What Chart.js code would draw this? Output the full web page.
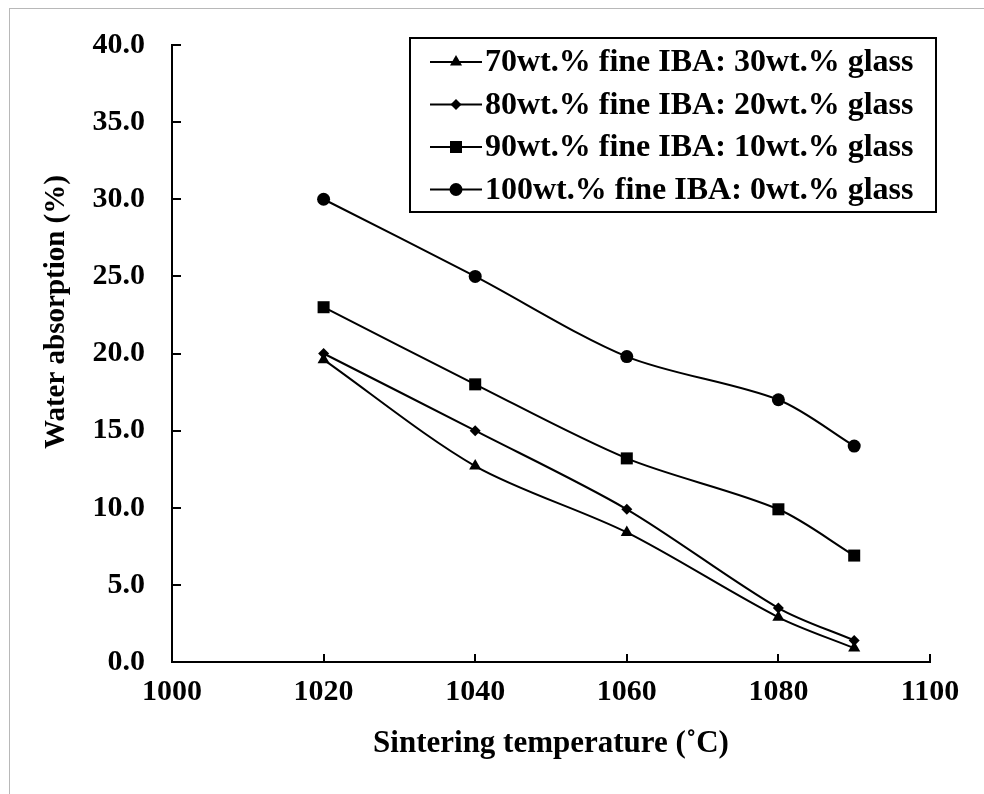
<!DOCTYPE html>
<html>
<head>
<meta charset="utf-8">
<script src="https://cdn.jsdelivr.net/npm/chart.js@4.4.1/dist/chart.umd.min.js"></script>
<style>
  html, body { margin: 0; padding: 0; background: #fff; }
  #wrap { position: relative; width: 984px; height: 794px; overflow: hidden; }
  #frame { position: absolute; left: 9px; top: 8px; right: -10px; bottom: -10px;
           border-left: 1px solid #b8b8b8; border-top: 1px solid #b8b8b8; }
  canvas { position: absolute; left: 0; top: 0; }
</style>
</head>
<body>
<div id="wrap">
  <div id="frame"></div>
  <canvas id="chart" width="984" height="794"></canvas>
</div>
<script>
// Sintering temperature (x) and water absorption (%) per mix
const temperatures = [1020, 1040, 1060, 1080, 1090];
const glass30 = [19.6, 12.7, 8.4, 2.9, 0.9];
const glass20 = [20.0, 15.0, 9.9, 3.5, 1.4];
const glass10 = [23.0, 18.0, 13.2, 9.9, 6.9];
const glass0 = [30.0, 25.0, 19.8, 17.0, 14.0];

const seriesLabels = [
  '70wt.% fine IBA: 30wt.% glass',
  '80wt.% fine IBA: 20wt.% glass',
  '90wt.% fine IBA: 10wt.% glass',
  '100wt.% fine IBA: 0wt.% glass'
];
const xTitle = 'Sintering temperature (\u02DAC)';
const yTitle = 'Water absorption (%)';

const FONT = '"Liberation Serif", "Times New Roman", serif';

const markers = [
  { pointStyle: 'triangle', radius: 7 },
  { pointStyle: 'rectRot', radius: 5.5 },
  { pointStyle: 'rect', radius: 8.5 },
  { pointStyle: 'circle', radius: 6.5 }
];

function toPoints(values) {
  return temperatures.map((t, i) => ({ x: t, y: values[i] }));
}

const datasets = [glass30, glass20, glass10, glass0].map((values, i) => ({
  label: seriesLabels[i],
  data: toPoints(values),
  borderColor: '#000',
  borderWidth: 2,
  backgroundColor: '#000',
  pointStyle: markers[i].pointStyle,
  pointRadius: markers[i].radius,
  pointBackgroundColor: '#000',
  pointBorderWidth: 0,
  tension: 0.3,
  fill: false
}));

// Short tick marks pointing into the plot, like the original
const innerTicks = {
  id: 'innerTicks',
  beforeDatasetsDraw(chart) {
    const { ctx, chartArea, scales: { x, y } } = chart;
    ctx.save();
    ctx.strokeStyle = '#000';
    ctx.lineWidth = 2;
    ctx.beginPath();
    x.ticks.forEach(t => {
      const px = Math.round(x.getPixelForValue(t.value));
      ctx.moveTo(px, chartArea.bottom);
      ctx.lineTo(px, chartArea.bottom - 8);
    });
    y.ticks.forEach(t => {
      const py = Math.round(y.getPixelForValue(t.value));
      ctx.moveTo(chartArea.left, py);
      ctx.lineTo(chartArea.left + 9, py);
    });
    ctx.stroke();
    ctx.restore();
  }
};

// Rotated y-axis title, sitting a bit above the axis centre
const yAxisTitle = {
  id: 'yAxisTitle',
  afterDraw(chart) {
    const { ctx } = chart;
    ctx.save();
    ctx.translate(57, 312);
    ctx.rotate(-Math.PI / 2);
    ctx.font = 'bold 29px ' + FONT;
    ctx.fillStyle = '#000';
    ctx.textAlign = 'center';
    ctx.textBaseline = 'middle';
    ctx.fillText(yTitle, 0, 0);
    ctx.restore();
  }
};

// Boxed legend in the upper right of the plot
const boxLegend = {
  id: 'boxLegend',
  afterDraw(chart) {
    const { ctx } = chart;
    const left = 410, top = 38, width = 526, height = 174;
    ctx.save();
    ctx.fillStyle = '#fff';
    ctx.fillRect(left, top, width, height);
    ctx.strokeStyle = '#000';
    ctx.lineWidth = 2;
    ctx.strokeRect(left, top, width, height);

    ctx.font = 'bold 32px ' + FONT;
    ctx.textBaseline = 'middle';
    ctx.textAlign = 'left';
    chart.data.datasets.forEach((ds, i) => {
      const cy = 62 + i * 42.5;
      ctx.strokeStyle = '#000';
      ctx.lineWidth = 2;
      ctx.beginPath();
      ctx.moveTo(430, cy);
      ctx.lineTo(482, cy);
      ctx.stroke();
      ctx.fillStyle = '#000';
      Chart.helpers.drawPoint(ctx, {
        pointStyle: ds.pointStyle,
        radius: ds.pointRadius,
        rotation: 0,
        borderWidth: 0
      }, 456, cy);
      ctx.fillText(ds.label, 485, cy + 1);
    });
    ctx.restore();
  }
};

new Chart(document.getElementById('chart'), {
  type: 'line',
  data: { datasets },
  plugins: [innerTicks, yAxisTitle, boxLegend],
  options: {
    responsive: false,
    animation: false,
    devicePixelRatio: 1,
    layout: { padding: { left: 0, top: 40, right: 54, bottom: 0 } },
    plugins: {
      legend: { display: false },
      tooltip: { enabled: false },
      title: { display: false }
    },
    scales: {
      x: {
        type: 'linear',
        min: 1000,
        max: 1100,
        ticks: {
          stepSize: 20,
          padding: 12,
          color: '#000',
          font: { family: FONT, size: 30, weight: 'bold' },
          callback: v => String(v)
        },
        grid: { display: false, drawTicks: false },
        border: { display: true, color: '#000', width: 2 },
        title: {
          display: true,
          text: xTitle,
          color: '#000',
          font: { family: FONT, size: 31, weight: 'bold' },
          padding: { top: 0, bottom: 31 }
        },
        afterFit(scale) { scale.height = 132; }
      },
      y: {
        min: 0,
        max: 40,
        ticks: {
          stepSize: 5,
          padding: 27,
          color: '#000',
          font: { family: FONT, size: 30, weight: 'bold' },
          callback: v => Number(v).toFixed(1)
        },
        grid: { display: false, drawTicks: false },
        border: { display: true, color: '#000', width: 2 },
        afterFit(scale) { scale.width = 172; }
      }
    }
  }
});
</script>
</body>
</html>
